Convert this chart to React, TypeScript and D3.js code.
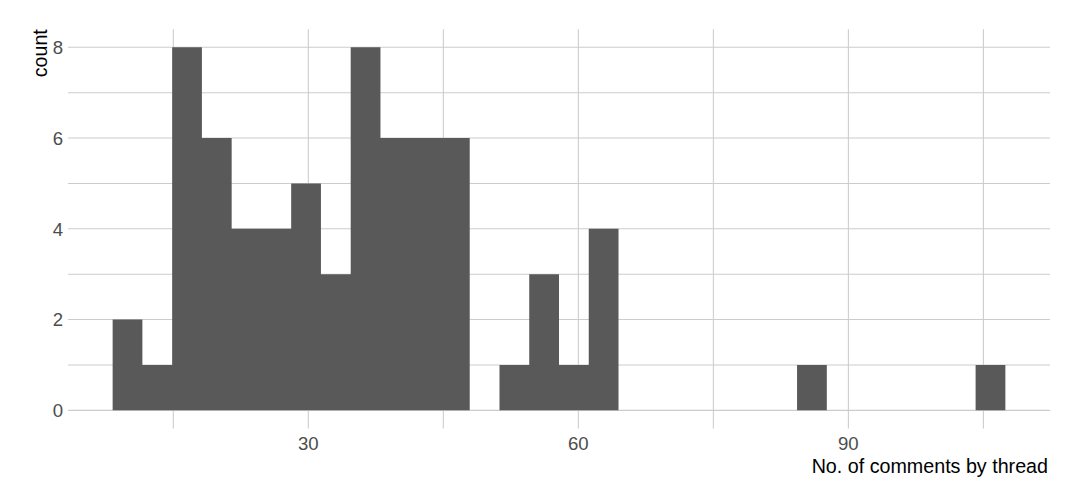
import React from "react";
import * as d3 from "d3";

const binCounts = [2, 1, 8, 6, 4, 4, 5, 3, 8, 6, 6, 6, 0, 1, 3, 1, 4, 0, 0, 0, 0, 0, 0, 1, 0, 0, 0, 0, 0, 1];
const binRange = [8.26, 107.44];
const xMajorTicks = [30, 60, 90];
const xMinorTicks = [15, 45, 75, 105];
const yMajorTicks = [0, 2, 4, 6, 8];
const yMinorTicks = [1, 3, 5, 7];
const xTitle = "No. of comments by thread";
const yTitle = "count";

export default function App() {
  const W = 1080, H = 504;
  const left = 68, right = 1050, top = 29.15, bottom = 428.5;
  const span = binRange[1] - binRange[0];
  const x = d3.scaleLinear()
    .domain([binRange[0] - span * 0.05, binRange[1] + span * 0.05])
    .range([left, right]);
  const yMax = d3.max(binCounts) as number;
  const y = d3.scaleLinear()
    .domain([-yMax * 0.05, yMax * 1.05])
    .range([bottom, top]);
  const bw = span / binCounts.length;
  const grid = "#CCCCCC";
  const font = "'Liberation Sans', Arial, sans-serif";

  const p = d3.path();
  binCounts.forEach((c, i) => {
    if (c <= 0) return;
    const x0 = x(binRange[0] + i * bw);
    const x1 = x(binRange[0] + (i + 1) * bw);
    p.rect(x0, y(c), x1 - x0, y(0) - y(c));
  });

  return (
    <svg width={W} height={H} style={{ position: "absolute", left: 0, top: 0, background: "#fff" }}>
      <rect width={W} height={H} fill="#fff" />
      <g>
        {[...yMinorTicks, ...yMajorTicks].map((t) => (
          <line key={"h" + t} x1={left} x2={right} y1={y(t)} y2={y(t)} stroke={grid} strokeWidth={1.07} />
        ))}
        {[...xMinorTicks, ...xMajorTicks].map((t) => (
          <line key={"v" + t} x1={x(t)} x2={x(t)} y1={top} y2={bottom} stroke={grid} strokeWidth={1.07} />
        ))}
      </g>
      <path d={p.toString()} fill="#595959" />
      <g fontFamily={font} fontSize={18.6} fill="#4D4D4D">
        {yMajorTicks.map((t) => (
          <text key={"yl" + t} x={63} y={y(t)} dy="0.36em" textAnchor="end">{t}</text>
        ))}
        {xMajorTicks.map((t) => (
          <text key={"xl" + t} x={x(t)} y={450} textAnchor="middle">{t}</text>
        ))}
      </g>
      <text x={1048} y={472.5} textAnchor="end" fontFamily={font} fontSize={19.7} fill="#000">{xTitle}</text>
      <text transform={`translate(46.5, ${top}) rotate(-90)`} textAnchor="end" fontFamily={font} fontSize={19.7} fill="#000">{yTitle}</text>
    </svg>
  );
}
